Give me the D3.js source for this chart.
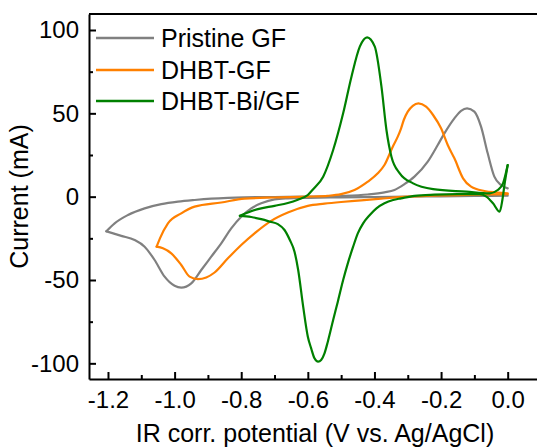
<!DOCTYPE html>
<html>
<head>
<meta charset="utf-8">
<script src="https://cdn.jsdelivr.net/npm/d3@7"></script>
<style>
  body { margin: 0; background: #fff; }
  svg { display: block; font-family: "Liberation Sans", Arial, sans-serif; }
</style>
</head>
<body>
<div id="wrapper"></div>
<script>
// potential (V) and current (mA), one pair of arrays per curve
// each starts at the right end, runs the cathodic scan to the left vertex and comes back
const seriesNames = ["Pristine GF", "DHBT-GF", "DHBT-Bi/GF"]
const seriesColors = ["#808080", "#ff8000", "#008000"]

const grayV = [0.0, -0.1, -0.2, -0.3, -0.4, -0.5, -0.6, -0.66, -0.7, -0.74, -0.77, -0.8, -0.83, -0.86, -0.89, -0.92, -0.95, -0.98, -1.0, -1.03, -1.06, -1.09, -1.12, -1.16, -1.205,
  -1.18, -1.14, -1.09, -1.04, -0.99, -0.94, -0.89, -0.84, -0.79, -0.7, -0.6, -0.5, -0.42, -0.37, -0.34, -0.31, -0.28, -0.24, -0.21, -0.19, -0.16, -0.14, -0.122, -0.1, -0.08, -0.06, -0.04, -0.02, 0.0]
const grayI = [0.6, 0.4, 0.2, 0.0, -0.2, -0.4, -0.7, -1.0, -1.6, -4, -7, -12, -19, -28, -36, -44, -52, -54.6, -53.5, -48, -38, -30, -26, -23.5, -20.8,
  -16, -11, -7, -4.5, -3, -2, -1.2, -0.7, -0.4, -0.2, 0.0, 0.4, 1.3, 2.6, 4, 7.5, 12, 21, 31, 38, 47, 51.5, 53, 51, 42, 26, 12, 7, 5]

const orangeV = [0.0, -0.1, -0.2, -0.3, -0.38, -0.44, -0.5, -0.55, -0.6, -0.66, -0.71, -0.76, -0.8, -0.84, -0.88, -0.905, -0.93, -0.955, -0.98, -1.01, -1.035, -1.054,
  -1.044, -1.02, -0.98, -0.94, -0.86, -0.79, -0.7, -0.6, -0.54, -0.5, -0.46, -0.42, -0.39, -0.37, -0.345, -0.33, -0.32, -0.312, -0.3, -0.285, -0.268, -0.245, -0.224, -0.2, -0.18, -0.16, -0.134, -0.11, -0.07, -0.03, 0.0]
const orangeI = [1.5, 1.2, 0.8, 0.0, -1.2, -2.2, -3.2, -4.2, -5.5, -9.5, -14.5, -22, -29, -37, -45.5, -48.5, -49.5, -48, -41, -34, -31, -30,
  -25, -16, -10, -6, -3.5, -1.2, -0.5, 0.0, 0.5, 1.5, 4, 9, 14, 19, 30, 36, 41, 46, 51, 54.5, 56, 54, 49, 41, 31, 23, 11, 6, 3.4, 2.5, 2]

const greenV = [0.0, -0.009, -0.016, -0.024, -0.044, -0.064, -0.084, -0.15, -0.22, -0.28, -0.32, -0.344, -0.37, -0.394, -0.414, -0.434, -0.45, -0.464, -0.48, -0.494, -0.51, -0.524, -0.54, -0.55, -0.56, -0.569, -0.58, -0.59, -0.6, -0.614, -0.629, -0.64, -0.654, -0.67, -0.69, -0.714, -0.74, -0.77, -0.804,
  -0.78, -0.75, -0.7, -0.66, -0.63, -0.6, -0.584, -0.554, -0.524, -0.494, -0.469, -0.444, -0.422, -0.399, -0.379, -0.364, -0.349, -0.324, -0.284, -0.224, -0.124, -0.054, -0.03, -0.014, 0.0]
const greenI = [19, 8, -2, -9, -4, 0, 1.5, 1.5, 1.2, 0.5, -1, -2, -4, -7, -11, -16, -22, -30, -40, -50, -63, -74, -87, -94, -98, -99, -97, -91, -84, -66, -44, -33, -26, -20, -16.5, -15, -13.5, -12.2, -11.5,
  -9.5, -7.5, -5.5, -3.8, -1.8, 1, 4.5, 12, 28, 50, 72, 90, 95.6, 90, 66, 40, 24, 14, 8, 4.5, 3, 2, 4, 8, 19]

const xTicks = [-1.2, -1.0, -0.8, -0.6, -0.4, -0.2, 0.0]
const xTickLabels = ["-1.2", "-1.0", "-0.8", "-0.6", "-0.4", "-0.2", "0.0"]
const xMinorTicks = [-1.1, -0.9, -0.7, -0.5, -0.3, -0.1]
const yTicks = [-100, -50, 0, 50, 100]
const yTickLabels = ["-100", "-50", "0", "50", "100"]
const yMinorTicks = [-75, -25, 25, 75]

function drawChart() {
  // pair the arrays up into points
  const zip = (vs, is) => vs.map((v, k) => ({ v: v, i: is[k] }))
  const series = [zip(grayV, grayI), zip(orangeV, orangeI), zip(greenV, greenI)]

  const xAccessor = d => d.v
  const yAccessor = d => d.i

  // dimensions, the right edge of the frame sits just outside the picture
  let dims = {
    width: 537,
    height: 448,
    margin: { top: 14, right: -4, bottom: 69, left: 89 },
  }
  dims.boundedWidth = dims.width - dims.margin.left - dims.margin.right
  dims.boundedHeight = dims.height - dims.margin.top - dims.margin.bottom

  const wrapper = d3.select("#wrapper")
    .append("svg")
      .attr("width", dims.width)
      .attr("height", dims.height)

  const bounds = wrapper.append("g")
      .attr("transform", `translate(${dims.margin.left}, ${dims.margin.top})`)

  // scales
  const xScale = d3.scaleLinear()
    .domain([-1.257, 0.1])
    .range([0, dims.boundedWidth])

  const yScale = d3.scaleLinear()
    .domain([-109.4, 109.6])
    .range([dims.boundedHeight, 0])

  // the curves: split each loop at its left vertex so every branch runs one way in x
  const lineGenerator = d3.line()
    .x(d => xScale(xAccessor(d)))
    .y(d => yScale(yAccessor(d)))
    .curve(d3.curveMonotoneX)

  series.forEach((s, k) => {
    const turn = d3.minIndex(s, xAccessor)
    const branches = [s.slice(0, turn + 1), s.slice(turn)]
    branches.forEach(b => {
      const sorted = b.slice().sort((a, c) => a.v - c.v)
      bounds.append("path")
          .attr("d", lineGenerator(sorted))
          .attr("fill", "none")
          .attr("stroke", seriesColors[k])
          .attr("stroke-width", 2.2)
          .attr("stroke-linejoin", "round")
          .attr("stroke-linecap", "round")
    })
  })

  // axes, ticks point inward
  const styleAxis = g => {
    g.selectAll("line").attr("stroke", "#000").attr("stroke-width", 2)
    g.select(".domain").attr("stroke", "#000").attr("stroke-width", 2)
    g.selectAll("text").attr("fill", "#000").style("font-size", "24px")
  }

  const xAxis = bounds.append("g")
      .attr("transform", `translate(0, ${dims.boundedHeight})`)
      .call(d3.axisBottom(xScale)
        .tickValues(xTicks)
        .tickFormat((d, k) => xTickLabels[k])
        .tickSizeInner(-7)
        .tickSizeOuter(0)
        .tickPadding(12))
      .call(styleAxis)

  const xMinorAxis = bounds.append("g")
      .attr("transform", `translate(0, ${dims.boundedHeight})`)
      .call(d3.axisBottom(xScale).tickValues(xMinorTicks).tickFormat("").tickSizeInner(-4).tickSizeOuter(0))
      .call(styleAxis)
  xMinorAxis.select(".domain").remove()

  const yAxis = bounds.append("g")
      .call(d3.axisLeft(yScale)
        .tickValues(yTicks)
        .tickFormat((d, k) => yTickLabels[k])
        .tickSizeInner(-7)
        .tickSizeOuter(0)
        .tickPadding(10))
      .call(styleAxis)

  const yMinorAxis = bounds.append("g")
      .call(d3.axisLeft(yScale).tickValues(yMinorTicks).tickFormat("").tickSizeInner(-4).tickSizeOuter(0))
      .call(styleAxis)
  yMinorAxis.select(".domain").remove()

  // top and right frame
  bounds.append("path")
      .attr("d", `M0,0H${dims.boundedWidth}V${dims.boundedHeight}`)
      .attr("fill", "none")
      .attr("stroke", "#000")
      .attr("stroke-width", 2)

  // axis titles
  wrapper.append("text")
      .attr("x", dims.margin.left + dims.boundedWidth / 2)
      .attr("y", 442)
      .attr("text-anchor", "middle")
      .style("font-size", "25px")
      .text("IR corr. potential (V vs. Ag/AgCl)")

  wrapper.append("text")
      .attr("transform", `translate(28, ${dims.margin.top + dims.boundedHeight / 2}) rotate(-90)`)
      .attr("text-anchor", "middle")
      .style("font-size", "25px")
      .text("Current (mA)")

  // legend
  const legend = wrapper.append("g")
  const legendY = [38, 70, 101]
  seriesNames.forEach((name, k) => {
    legend.append("line")
        .attr("x1", 96)
        .attr("x2", 154)
        .attr("y1", legendY[k])
        .attr("y2", legendY[k])
        .attr("stroke", seriesColors[k])
        .attr("stroke-width", 2.5)
    legend.append("text")
        .attr("x", 161)
        .attr("y", legendY[k])
        .attr("dy", "0.36em")
        .style("font-size", "25px")
        .text(name)
  })
}

drawChart()
</script>
</body>
</html>
